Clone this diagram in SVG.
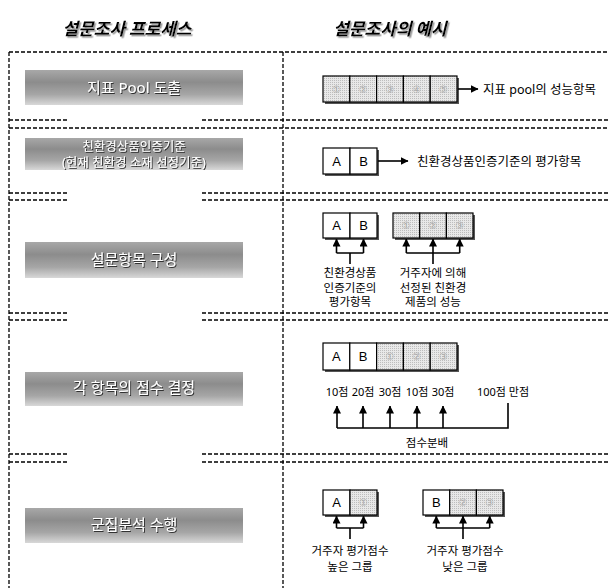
<svg xmlns="http://www.w3.org/2000/svg" width="608" height="588" viewBox="0 0 608 588">
<style>
.dash{stroke:#000;stroke-width:1.3;stroke-dasharray:4 2;fill:none}
.ln{stroke:#000;stroke-width:1.6;fill:none}
.cw{fill:#fff;stroke:#000;stroke-width:1.2}
.cg{fill:url(#dots);stroke:#000;stroke-width:1.2}
.sh{fill:#555}
.lbl{font-family:"Noto Sans","Noto Sans CJK KR",sans-serif;font-size:12.5px;fill:#000}
.sm{font-size:11.5px}
.sc{font-size:11px}
.cell{font-family:"Liberation Sans",Arial,sans-serif;font-size:13px;fill:#000;text-anchor:middle}
.faint{font-family:"DejaVu Sans","Noto Sans CJK KR",sans-serif;font-size:10px;fill:#aaa;text-anchor:middle}
.hdr{font-family:"Noto Sans CJK KR",sans-serif;font-size:17px;font-weight:bold;font-style:italic;text-anchor:middle;fill:#000;filter:url(#hsh)}
.ban{font-family:"Noto Sans","Noto Sans CJK KR",sans-serif;font-size:15px;fill:#fff;text-anchor:middle;filter:url(#tsh)}
</style>
<defs>
<filter id="tsh" x="-10%" y="-30%" width="120%" height="160%">
<feDropShadow dx="1" dy="1" stdDeviation="0.3" flood-color="#333" flood-opacity="1"/>
</filter>
<filter id="hsh" x="-10%" y="-30%" width="120%" height="160%">
<feDropShadow dx="1.5" dy="1.5" stdDeviation="0" flood-color="#999" flood-opacity="1"/>
</filter>
<linearGradient id="bg" x1="0" y1="0" x2="0" y2="1">
<stop offset="0" stop-color="#a8a8a8"/>
<stop offset="0.35" stop-color="#8c8c8c"/>
<stop offset="0.7" stop-color="#a6a6a6"/>
<stop offset="1" stop-color="#d8d8d8"/>
</linearGradient>
<pattern id="dots" width="2" height="2" patternUnits="userSpaceOnUse">
<rect width="2" height="2" fill="#e8e8e8"/>
<rect width="1" height="1" fill="#bdbdbd"/>
</pattern>
<marker id="ah" viewBox="0 0 8 8" refX="7.5" refY="4" markerWidth="8" markerHeight="8" markerUnits="userSpaceOnUse" orient="auto">
<path d="M0,0 L8,4 L0,8 z" fill="#000"/>
</marker>
</defs>
<rect width="608" height="588" fill="#fff"/>

<!-- headers -->
<g id="header-left"><text class="hdr" x="127" y="35">설문조사 프로세스</text></g>
<g id="header-right"><text class="hdr" x="390" y="35">설문조사의 예시</text></g>

<!-- grid -->
<g id="grid">
<path class="dash" d="M9,52 H608"/>
<path class="dash" d="M9,52 V588"/>
<path class="dash" d="M283,52 V588"/>
<path class="dash" d="M9,120 H68 M202,120 H608"/>
<path class="dash" d="M9,128 H608"/>
<path class="dash" d="M9,193 H68 M202,193 H608"/>
<path class="dash" d="M9,200 H68 M202,200 H608"/>
<path class="dash" d="M9,313 H68 M202,313 H608"/>
<path class="dash" d="M9,320 H68 M202,320 H608"/>
<path class="dash" d="M9,454 H68 M202,454 H608"/>
<path class="dash" d="M9,462 H68 M202,462 H608"/>
</g>

<!-- left process banners -->
<g id="step1">
<rect x="25" y="70" width="218" height="35" fill="url(#bg)"/>
<text class="ban" x="134" y="93">지표 Pool 도출</text>
</g>
<g id="step2">
<rect x="25" y="138" width="218" height="32" fill="url(#bg)"/>
<text class="ban" style="font-size:12.5px"><tspan x="134" y="151">친환경상품인증기준</tspan><tspan x="134" y="166.5">(현재 친환경 소재 선정기준)</tspan></text>
</g>
<g id="step3">
<rect x="25" y="242" width="218" height="36" fill="url(#bg)"/>
<text class="ban" x="134" y="265">설문항목 구성</text>
</g>
<g id="step4">
<rect x="25" y="372" width="218" height="34" fill="url(#bg)"/>
<text class="ban" x="134" y="393">각 항목의 점수 결정</text>
</g>
<g id="step5">
<rect x="25" y="508" width="218" height="35" fill="url(#bg)"/>
<text class="ban" x="134" y="530">군집분석 수행</text>
</g>

<!-- row 1 example -->
<g id="ex1-cells">
<rect class="sh" x="325" y="78" width="134" height="26"/>
<rect class="cg" x="323" y="76" width="26.8" height="26"/>
<rect class="cg" x="349.8" y="76" width="26.8" height="26"/>
<rect class="cg" x="376.6" y="76" width="26.8" height="26"/>
<rect class="cg" x="403.4" y="76" width="26.8" height="26"/>
<rect class="cg" x="430.2" y="76" width="26.8" height="26"/>
<text class="faint" x="336.4" y="93">①</text>
<text class="faint" x="363.2" y="93">②</text>
<text class="faint" x="390" y="93">③</text>
<text class="faint" x="416.8" y="93">④</text>
<text class="faint" x="443.6" y="93">⑤</text>
</g>
<g id="ex1-label"><text class="lbl" x="483" y="94">지표 pool의 성능항목</text></g>

<!-- row 2 example -->
<g id="ex2-cells">
<rect class="sh" x="325" y="150" width="54" height="26"/>
<rect class="cw" x="323" y="148" width="27" height="26"/>
<rect class="cw" x="350" y="148" width="27" height="26"/>
<text class="cell" x="336.5" y="166">A</text>
<text class="cell" x="363.5" y="166">B</text>
</g>
<g id="ex2-label"><text class="lbl" x="417" y="166">친환경상품인증기준의 평가항목</text></g>

<!-- row 3 example -->
<g id="ex3-ab">
<rect class="sh" x="325" y="215" width="54" height="25"/>
<rect class="cw" x="323" y="213" width="27" height="25"/>
<rect class="cw" x="350" y="213" width="27" height="25"/>
<text class="cell" x="336.5" y="230">A</text>
<text class="cell" x="363.5" y="230">B</text>
</g>
<g id="ex3-gray">
<rect class="sh" x="395" y="215" width="80" height="25"/>
<rect class="cg" x="393" y="213" width="26.7" height="25"/>
<rect class="cg" x="419.7" y="213" width="26.7" height="25"/>
<rect class="cg" x="446.4" y="213" width="26.6" height="25"/>
<text class="faint" x="406.3" y="229">①</text>
<text class="faint" x="433" y="229">②</text>
<text class="faint" x="459.7" y="229">③</text>
</g>
<g id="ex3-label-a">
<text class="lbl sm" x="350" y="277" text-anchor="middle">친환경상품</text>
<text class="lbl sm" x="350" y="291.5" text-anchor="middle">인증기준의</text>
<text class="lbl sm" x="350" y="306" text-anchor="middle">평가항목</text>
</g>
<g id="ex3-label-b">
<text class="lbl sm" x="433" y="277" text-anchor="middle">거주자에 의해</text>
<text class="lbl sm" x="433" y="291.5" text-anchor="middle">선정된 친환경</text>
<text class="lbl sm" x="433" y="306" text-anchor="middle">제품의 성능</text>
</g>

<!-- row 4 example -->
<g id="ex4-cells">
<rect class="sh" x="325" y="345" width="134" height="27"/>
<rect class="cw" x="323" y="343" width="26.8" height="27"/>
<rect class="cw" x="349.8" y="343" width="26.8" height="27"/>
<rect class="cg" x="376.6" y="343" width="26.8" height="27"/>
<rect class="cg" x="403.4" y="343" width="26.8" height="27"/>
<rect class="cg" x="430.2" y="343" width="26.8" height="27"/>
<text class="cell" x="336.4" y="361">A</text>
<text class="cell" x="363.2" y="361">B</text>
<text class="faint" x="390" y="360">①</text>
<text class="faint" x="416.8" y="360">②</text>
<text class="faint" x="443.6" y="360">③</text>
</g>
<g id="ex4-scores">
<text class="lbl sc" x="337" y="396" text-anchor="middle">10점</text>
<text class="lbl sc" x="363" y="396" text-anchor="middle">20점</text>
<text class="lbl sc" x="390" y="396" text-anchor="middle">30점</text>
<text class="lbl sc" x="417" y="396" text-anchor="middle">10점</text>
<text class="lbl sc" x="443" y="396" text-anchor="middle">30점</text>
<text class="lbl sc" x="503" y="396" text-anchor="middle">100점 만점</text>
<text class="lbl sm" x="427" y="447" text-anchor="middle">점수분배</text>
</g>

<!-- row 5 example -->
<g id="ex5-high">
<rect class="sh" x="325" y="492" width="54" height="25"/>
<rect class="cw" x="323" y="490" width="27" height="25"/>
<rect class="cg" x="350" y="490" width="27" height="25"/>
<text class="cell" x="336.5" y="507">A</text>
<text class="faint" x="363.5" y="506">①</text>
<text class="lbl sm" x="350" y="555" text-anchor="middle">거주자 평가점수</text>
<text class="lbl sm" x="350" y="571" text-anchor="middle">높은 그룹</text>
</g>
<g id="ex5-low">
<rect class="sh" x="425" y="492" width="80" height="25"/>
<rect class="cw" x="423" y="490" width="26.7" height="25"/>
<rect class="cg" x="449.7" y="490" width="26.7" height="25"/>
<rect class="cg" x="476.4" y="490" width="26.6" height="25"/>
<text class="cell" x="436.3" y="507">B</text>
<text class="faint" x="463" y="506">②</text>
<text class="faint" x="489.7" y="506">③</text>
<text class="lbl sm" x="465" y="555" text-anchor="middle">거주자 평가점수</text>
<text class="lbl sm" x="465" y="571" text-anchor="middle">낮은 그룹</text>
</g>

<!-- connectors -->
<g id="connectors">
<path class="ln" d="M458,89 H478" marker-end="url(#ah)"/>
<path class="ln" d="M378,161 H408" marker-end="url(#ah)"/>

<path class="ln" d="M336.5,253 H363.5 M350,253 V264"/>
<path class="ln" d="M336.5,253 V239" marker-end="url(#ah)"/>
<path class="ln" d="M363.5,253 V239" marker-end="url(#ah)"/>
<path class="ln" d="M406.3,253 H459.7 M433,253 V264"/>
<path class="ln" d="M406.3,253 V239" marker-end="url(#ah)"/>
<path class="ln" d="M433,253 V239" marker-end="url(#ah)"/>
<path class="ln" d="M459.7,253 V239" marker-end="url(#ah)"/>

<path class="ln" d="M337,428 H508 V403"/>
<path class="ln" d="M337,428 V406" marker-end="url(#ah)"/>
<path class="ln" d="M363,428 V406" marker-end="url(#ah)"/>
<path class="ln" d="M390,428 V406" marker-end="url(#ah)"/>
<path class="ln" d="M417,428 V406" marker-end="url(#ah)"/>
<path class="ln" d="M443,428 V406" marker-end="url(#ah)"/>

<path class="ln" d="M336.5,528 H363.5 M350,528 V539"/>
<path class="ln" d="M336.5,528 V516" marker-end="url(#ah)"/>
<path class="ln" d="M363.5,528 V516" marker-end="url(#ah)"/>
<path class="ln" d="M436.3,528 H489.7 M463,528 V539"/>
<path class="ln" d="M436.3,528 V516" marker-end="url(#ah)"/>
<path class="ln" d="M463,528 V516" marker-end="url(#ah)"/>
<path class="ln" d="M489.7,528 V516" marker-end="url(#ah)"/>
</g>
</svg>
